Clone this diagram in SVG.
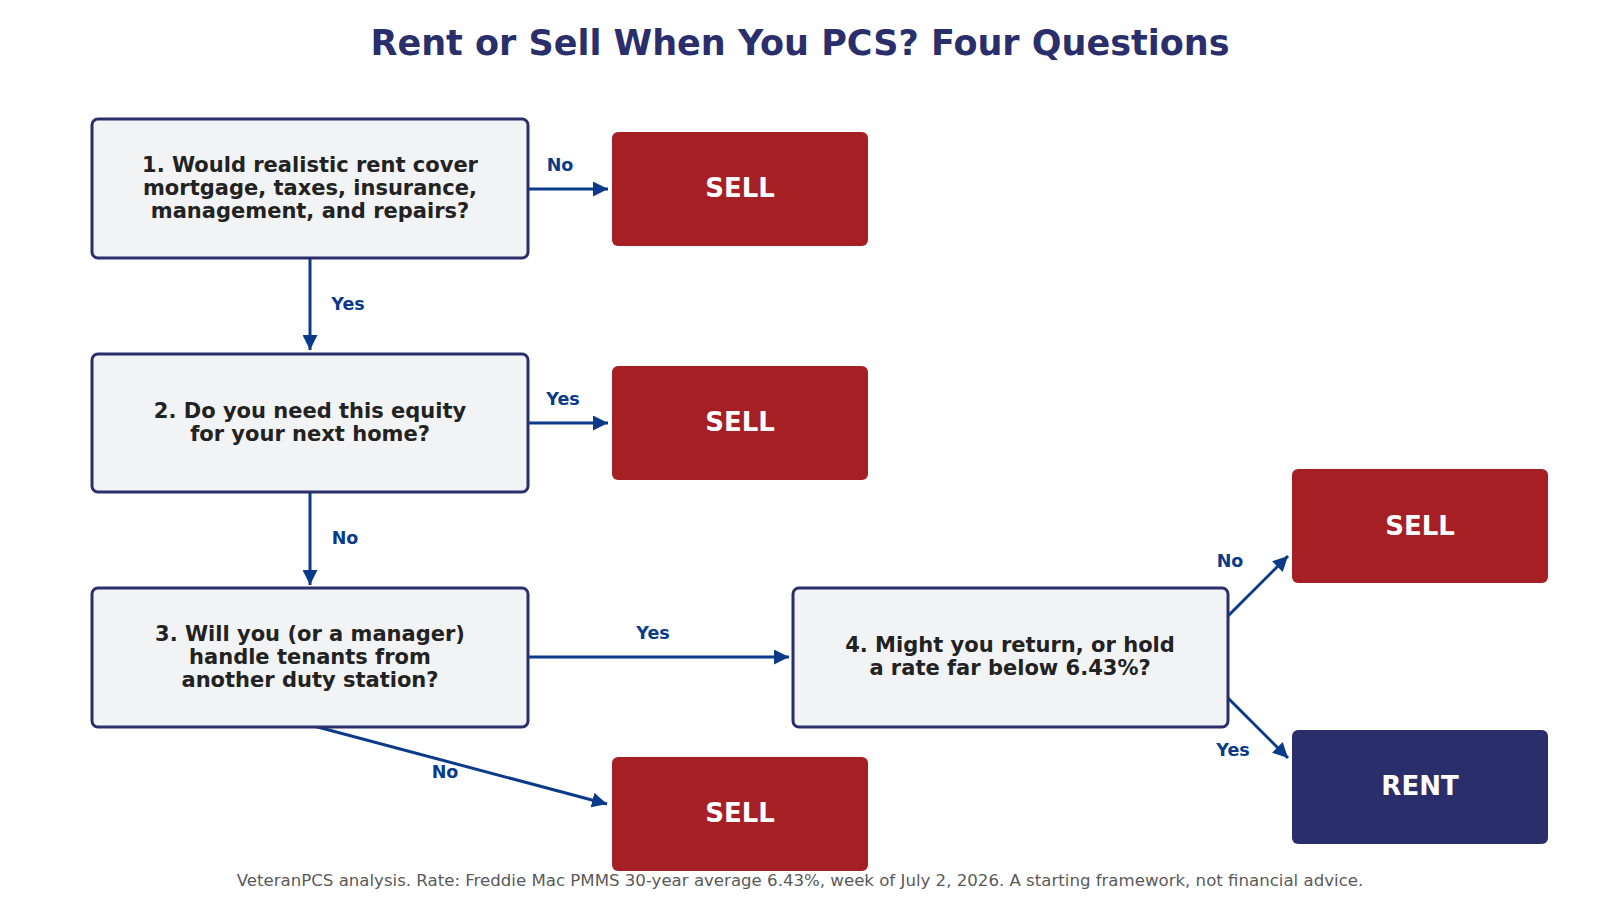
<svg xmlns="http://www.w3.org/2000/svg" width="1600" height="900" viewBox="0 0 1600 900">
<style>
.q{fill:#F2F3F5;stroke:#2A2F6B;stroke-width:3}
.qt{font-family:"DejaVu Sans",sans-serif;font-weight:bold;font-size:21px;fill:#222;text-anchor:middle}
.sell{fill:#A61F24}
.rent{fill:#2A2F6B}
.ot{font-family:"DejaVu Sans",sans-serif;font-weight:bold;font-size:26px;fill:#fff;text-anchor:middle}
.c{stroke:#0A3A8A;stroke-width:3;fill:none}
.el{font-family:"DejaVu Sans",sans-serif;font-weight:bold;font-size:17.5px;fill:#0A3A8A;text-anchor:middle}
</style>
<defs>
<marker id="ah" viewBox="0 0 10 10" refX="10" refY="5" markerWidth="5" markerHeight="5" orient="auto" markerUnits="strokeWidth">
<path d="M0,0 L10,5 L0,10 z" fill="#0A3A8A"/>
</marker>
</defs>
<rect width="1600" height="900" fill="#fff"/>
<text x="800" y="55" font-family="DejaVu Sans, sans-serif" font-weight="bold" font-size="35" fill="#2A2F6B" text-anchor="middle">Rent or Sell When You PCS? Four Questions</text>

<g id="connectors">
<line class="c" x1="528" y1="189" x2="608" y2="189" marker-end="url(#ah)"/>
<text class="el" x="560" y="171">No</text>
<line class="c" x1="310" y1="258" x2="310" y2="350" marker-end="url(#ah)"/>
<text class="el" x="348" y="310">Yes</text>
<line class="c" x1="528" y1="423" x2="608" y2="423" marker-end="url(#ah)"/>
<text class="el" x="563" y="405">Yes</text>
<line class="c" x1="310" y1="492" x2="310" y2="585" marker-end="url(#ah)"/>
<text class="el" x="345" y="544">No</text>
<line class="c" x1="528" y1="657" x2="789" y2="657" marker-end="url(#ah)"/>
<text class="el" x="653" y="639">Yes</text>
<line class="c" x1="310" y1="725" x2="607" y2="804" marker-end="url(#ah)"/>
<text class="el" x="445" y="778">No</text>
<line class="c" x1="1228" y1="616" x2="1288" y2="556" marker-end="url(#ah)"/>
<text class="el" x="1230" y="567">No</text>
<line class="c" x1="1228" y1="698" x2="1288" y2="758" marker-end="url(#ah)"/>
<text class="el" x="1233" y="756">Yes</text>
</g>

<g id="q1">
<rect class="q" x="92" y="119" width="436" height="139" rx="6"/>
<text class="qt" x="310" y="172">1. Would realistic rent cover</text>
<text class="qt" x="310" y="195">mortgage, taxes, insurance,</text>
<text class="qt" x="310" y="218">management, and repairs?</text>
</g>
<g id="q2">
<rect class="q" x="92" y="354" width="436" height="138" rx="6"/>
<text class="qt" x="310" y="418">2. Do you need this equity</text>
<text class="qt" x="310" y="441">for your next home?</text>
</g>
<g id="q3">
<rect class="q" x="92" y="588" width="436" height="139" rx="6"/>
<text class="qt" x="310" y="641">3. Will you (or a manager)</text>
<text class="qt" x="310" y="664">handle tenants from</text>
<text class="qt" x="310" y="687">another duty station?</text>
</g>
<g id="q4">
<rect class="q" x="793" y="588" width="435" height="139" rx="6"/>
<text class="qt" x="1010" y="652">4. Might you return, or hold</text>
<text class="qt" x="1010" y="675">a rate far below 6.43%?</text>
</g>
<g id="sell1">
<rect class="sell" x="612" y="132" width="256" height="114" rx="6"/>
<text class="ot" x="740" y="197">SELL</text>
</g>
<g id="sell2">
<rect class="sell" x="612" y="366" width="256" height="114" rx="6"/>
<text class="ot" x="740" y="431">SELL</text>
</g>
<g id="sell3">
<rect class="sell" x="612" y="757" width="256" height="114" rx="6"/>
<text class="ot" x="740" y="822">SELL</text>
</g>
<g id="sell4">
<rect class="sell" x="1292" y="469" width="256" height="114" rx="6"/>
<text class="ot" x="1420" y="535">SELL</text>
</g>
<g id="rent">
<rect class="rent" x="1292" y="730" width="256" height="114" rx="6"/>
<text class="ot" x="1420" y="795">RENT</text>
</g>
<text x="800" y="886" font-family="DejaVu Sans, sans-serif" font-size="16.6" fill="#5a5a5a" text-anchor="middle">VeteranPCS analysis. Rate: Freddie Mac PMMS 30-year average 6.43%, week of July 2, 2026. A starting framework, not financial advice.</text>
</svg>
